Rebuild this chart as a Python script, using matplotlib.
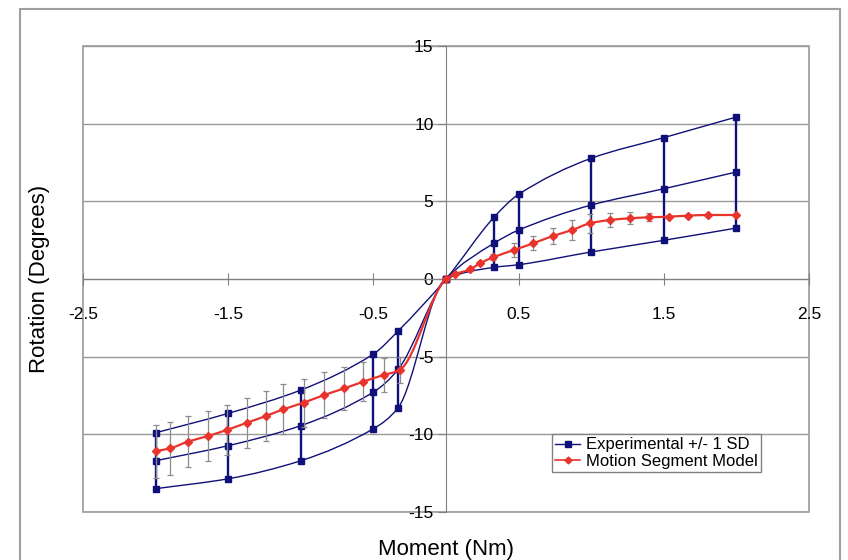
import numpy as np
import matplotlib
matplotlib.use("Agg")
import matplotlib.pyplot as plt
from matplotlib.path import Path
from matplotlib.patches import PathPatch, Rectangle
from matplotlib.lines import Line2D

plt.rcParams['font.family'] = ['Liberation Sans', 'DejaVu Sans']
plt.rcParams['axes.unicode_minus'] = False

exp_moment = [-2, -1.5, -1, -0.5, -0.33, 0, 0.33, 0.5, 1, 1.5, 2]
exp_upper = [-9.9, -8.65, -7.15, -4.83, -3.35, 0, 3.97, 5.45, 7.77, 9.1, 10.43]
exp_mean = [-11.7, -10.73, -9.44, -7.28, -5.82, 0, 2.3, 3.15, 4.76, 5.81, 6.89]
exp_lower = [-13.5, -12.86, -11.7, -9.64, -8.29, 0, 0.75, 0.92, 1.74, 2.49, 3.28]

# model
mod_moment = [-2.0, -1.9, -1.78, -1.64, -1.51, -1.37, -1.24, -1.12, -0.98, -0.84,
              -0.70, -0.57, -0.43, -0.32, 0, 0.06, 0.165, 0.234, 0.326, 0.469,
              0.602, 0.736, 0.871, 0.993, 1.131, 1.269, 1.395, 1.533, 1.664, 1.802, 2.0]
mod_rot = [-11.08, -10.9, -10.48, -10.11, -9.72, -9.25, -8.82, -8.39, -7.96, -7.47,
           -7.04, -6.61, -6.18, -5.86, 0, 0.3, 0.62, 1.01, 1.4, 1.87,
           2.3, 2.77, 3.16, 3.59, 3.80, 3.91, 3.97, 4.01, 4.08, 4.12, 4.12]
mod_sd = [1.7, 1.7, 1.65, 1.63, 1.62, 1.6, 1.58, 1.6, 1.55, 1.5,
          1.39, 1.27, 1.09, 0.85, 0, 0, 0, 0.1, 0.2, 0.45,
          0.45, 0.5, 0.65, 0.6, 0.48, 0.38, 0.25, 0.1, 0, 0, 0]

xticks = [-2.5, -1.5, -0.5, 0.5, 1.5, 2.5]
yticks = [-15, -10, -5, 0, 5, 10, 15]

NAVY = '#10107a'
RED = '#e8342c'
GRID = '#9a9a9a'


def smooth(x, y):
    # smoothed line drawn as bezier path (monotone slopes, no overshoot)
    x = np.asarray(x, float)
    y = np.asarray(y, float)
    h = np.diff(x)
    d = np.diff(y) / h
    n = len(x)
    s = np.zeros(n)
    s[0], s[-1] = d[0], d[-1]
    for i in range(1, n - 1):
        if d[i - 1] * d[i] > 0:
            s[i] = 2 / (1 / d[i - 1] + 1 / d[i])
    verts = [(x[0], y[0])]
    codes = [Path.MOVETO]
    for i in range(n - 1):
        verts += [(x[i] + h[i] / 3, y[i] + s[i] * h[i] / 3),
                  (x[i + 1] - h[i] / 3, y[i + 1] - s[i + 1] * h[i] / 3),
                  (x[i + 1], y[i + 1])]
        codes += [Path.CURVE4] * 3
    return Path(verts, codes)


fig = plt.figure(figsize=(8.48, 5.6), dpi=100)
ax = fig.add_axes([83 / 848, 1 - 512 / 560, (809 - 83) / 848, (512 - 46) / 560])

# outer chart border
fig.patches.append(Rectangle((20 / 848, -0.05), (840 - 20) / 848, 1.05 - 9 / 560,
                             transform=fig.transFigure, fill=False,
                             edgecolor='#a0a0a0', lw=1.5))

ax.set_xlim(-2.5, 2.5)
ax.set_ylim(-15, 15)
ax.patch.set_edgecolor(GRID)
ax.patch.set_linewidth(1.2)

for v in yticks:
    ax.axhline(v, color=GRID, lw=1, zorder=0)

for s in ['top', 'right']:
    ax.spines[s].set_visible(False)
ax.spines['left'].set_position(('data', 0))
ax.spines['bottom'].set_position(('data', 0))
ax.spines['left'].set_color('#808080')
ax.spines['bottom'].set_color('#808080')

ax.set_xticks(xticks)
ax.set_xticklabels([str(v) for v in xticks])
ax.set_yticks(yticks)
ax.set_yticklabels([str(v) for v in yticks])
ax.tick_params(axis='y', direction='out', length=6, color='#808080', labelsize=12.5, pad=3)
ax.tick_params(axis='x', direction='inout', length=8, color='#808080', labelsize=12.5, pad=16)

# experimental lines
for ys in [exp_upper, exp_mean, exp_lower]:
    ax.add_patch(PathPatch(smooth(exp_moment, ys), fill=False, edgecolor=NAVY, lw=1, zorder=3))
    ax.plot(exp_moment, ys, ls='none', marker='s', ms=4.5, color=NAVY, zorder=4)
ax.vlines(exp_moment, exp_lower, exp_upper, color=NAVY, lw=1.7, zorder=3)

# model
ax.errorbar(mod_moment, mod_rot, yerr=mod_sd, fmt='none', ecolor='#8c8c8c',
            elinewidth=0.9, capsize=2.5, capthick=0.9, zorder=5)
ax.add_patch(PathPatch(smooth(mod_moment, mod_rot), fill=False, edgecolor=RED, lw=1.6, zorder=6))
ax.plot(mod_moment, mod_rot, ls='none', marker='D', ms=4, color=RED, zorder=7)

ax.set_xlabel('Moment (Nm)', fontsize=16)
ax.xaxis.set_label_coords(0.5, -0.058)
ax.set_ylabel('Rotation (Degrees)', fontsize=16)
ax.yaxis.set_label_coords(-0.045, 0.5)

handles = [Line2D([], [], color=NAVY, marker='s', ms=4, lw=1),
           Line2D([], [], color=RED, marker='D', ms=3.5, lw=1.2)]
leg = fig.legend(handles, ['Experimental +/- 1 SD', 'Motion Segment Model'],
                 loc='upper left', bbox_to_anchor=(552 / 848, 1 - 434 / 560),
                 fontsize=12, frameon=True, fancybox=False, framealpha=1,
                 edgecolor='#808080', handlelength=1.5, handletextpad=0.35,
                 borderpad=0.2, labelspacing=0.1, borderaxespad=0)
leg.get_frame().set_linewidth(1)

fig.savefig('out.png', dpi=100)
